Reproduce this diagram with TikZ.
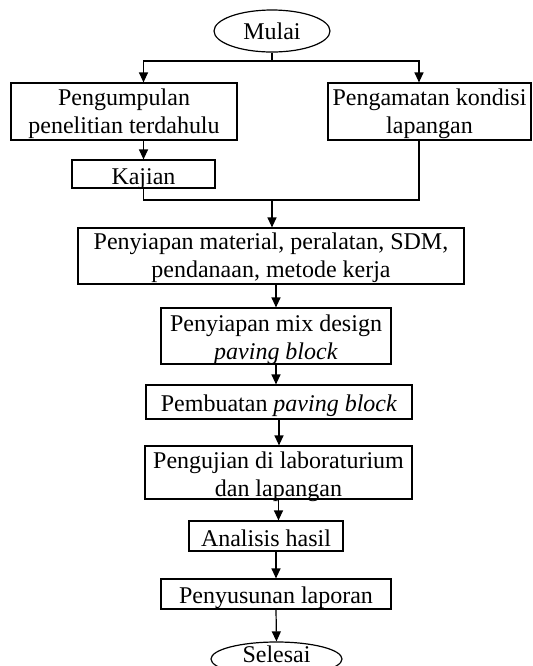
\documentclass[tikz,border=0pt]{standalone}
\usepackage{fontspec}
\setmainfont{Liberation Serif}
\usetikzlibrary{arrows.meta, positioning, shapes}

\begin{document}
\begin{tikzpicture}[
    x=0.5pt, y=-0.5pt,
    font=\fontsize{12pt}{14pt}\selectfont,
    box/.style={rectangle, draw, line width=0.6pt, inner xsep=1pt, inner ysep=0pt, align=center},
    term/.style={ellipse, draw, line width=0.6pt, inner sep=0pt, minimum width=58pt, minimum height=21pt},
    arrow/.style={-{Triangle[length=5pt, width=4.5pt]}, line width=0.6pt},
    line/.style={line width=0.6pt}
]
    \useasboundingbox (0,0) rectangle (532,666);

    % Start
    \node[term] (mulai) at (272,31) {Mulai};

    % Two branches
    \node[box, minimum width=113pt, minimum height=28.5pt, text height=25pt, text depth=3.5pt] (kumpul) at (124,111.5) {Pengumpulan\\penelitian terdahulu};
    \node[box, minimum width=101.5pt, minimum height=28.5pt, text height=25pt, text depth=3.5pt] (amati) at (429.5,111.5) {Pengamatan kondisi\\lapangan};
    \node[box, minimum width=71.5pt, minimum height=14pt, text height=12pt, text depth=2pt, below=9.4pt of kumpul, xshift=9.75pt] (kajian) {Kajian};

    % Main line
    \node[box, minimum width=193pt, minimum height=28pt, text height=24.5pt, text depth=3.5pt] (siap) at (271,256) {Penyiapan material, peralatan, SDM,\\pendanaan, metode kerja};
    \node[box, minimum width=115pt, minimum height=28pt, text height=25.5pt, text depth=2.5pt, below=11.4pt of siap, xshift=2.5pt] (mix) {Penyiapan mix design\\\textit{paving block}};
    \node[box, minimum width=133pt, minimum height=17pt, text height=13pt, text depth=4pt, below=9.9pt of mix, xshift=1.5pt] (buat) {Pembuatan \textit{paving block}};
    \node[box, minimum width=133.5pt, minimum height=26.5pt, text height=25pt, text depth=1.5pt, below=12.9pt of buat, xshift=-0.25pt] (uji) {Pengujian di laboraturium\\dan lapangan};
    \node[box, minimum width=77pt, minimum height=15pt, text height=12.5pt, text depth=2.5pt, below=10.4pt of uji, xshift=-6.25pt] (analisis) {Analisis hasil};
    \node[box, minimum width=115pt, minimum height=15pt, text height=12pt, text depth=3pt, below=13.4pt of analisis, xshift=5pt] (susun) {Penyusunan laporan};

    % End
    \node[term, minimum width=65.5pt, minimum height=17pt, text height=4pt, text depth=1pt, below=15.9pt of susun, xshift=0.25pt] (selesai) {Selesai};

    % Junctions
    \coordinate (split) at (272,61);
    \coordinate (join) at (272,200);

    % Arrows
    \draw[line] (mulai) -- (split);
    \draw[arrow] (split) -| (kajian |- kumpul.north);
    \draw[arrow] (split) -| ([xshift=-5.25pt]amati.north);
    \draw[arrow] (kajian |- kumpul.south) -- (kajian.north);
    \draw[line] (kajian) |- (join) -| ([xshift=-5.25pt]amati.south);
    \draw[arrow] (join) -- (join |- siap.north);
    \draw[arrow] (mix.north |- siap.south) -- (mix.north);
    \draw[arrow] (mix) -- (mix |- buat.north);
    \draw[arrow] (buat) -- (buat |- uji.north);
    \draw[arrow] (uji.south) -- (uji.south |- analisis.north);
    \draw[arrow] (susun.north |- analisis.south) -- (susun.north);
    \draw[arrow] (susun.south) -- (selesai.north);

\end{tikzpicture}
\end{document}
